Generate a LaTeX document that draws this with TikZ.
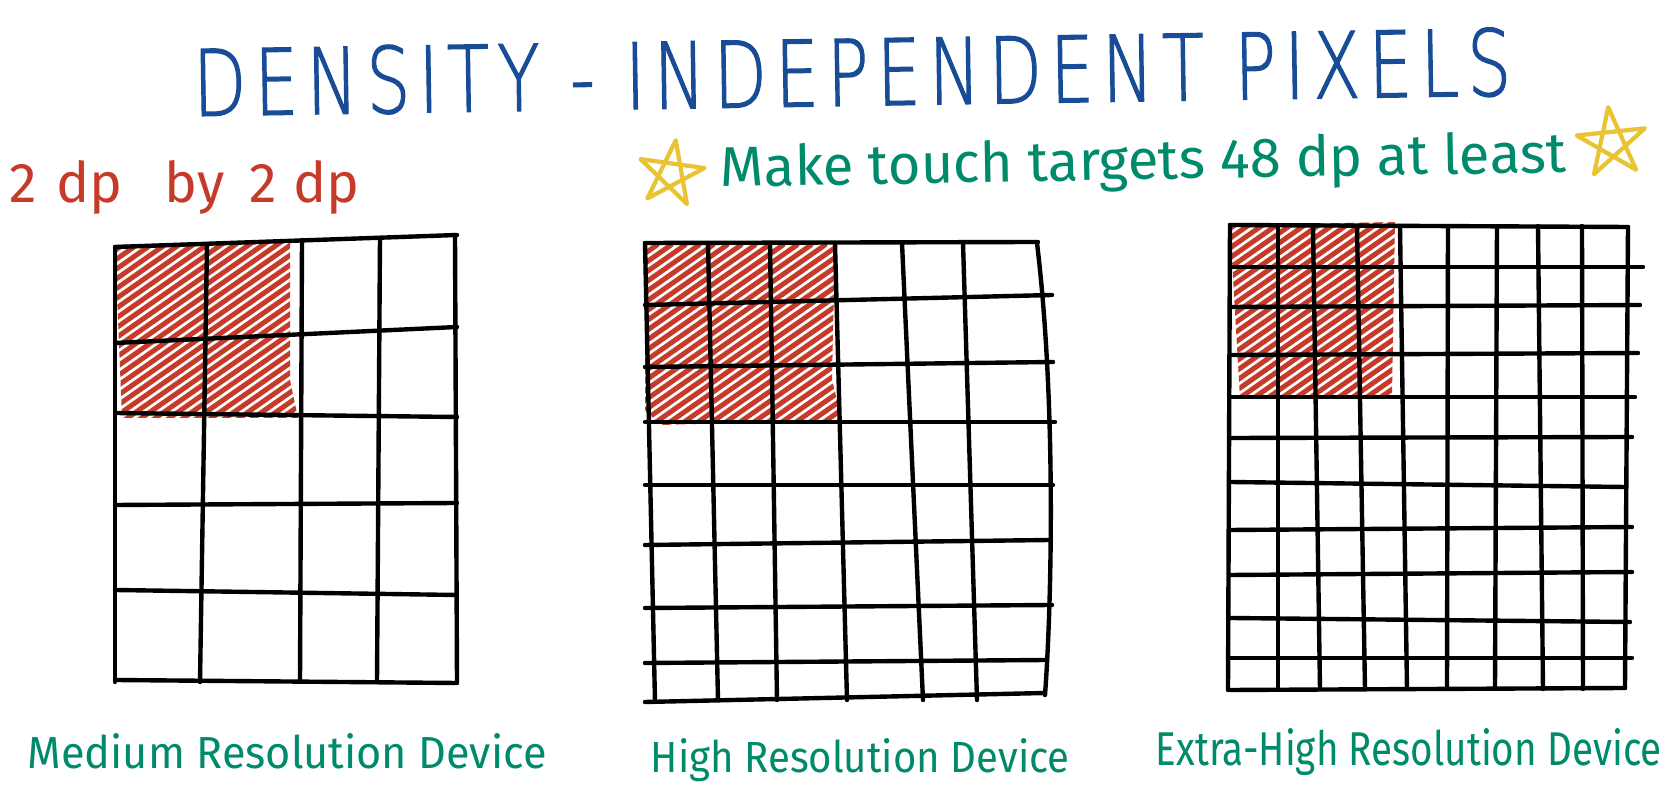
\documentclass[tikz,border=0pt]{standalone}
\usepackage{graphicx}
\usepackage{fontspec}
\setmainfont{Fira Sans}
\newfontfamily\titlefont[LetterSpace=12,FakeBold=1.5]{DejaVu Sans ExtraLight}
\definecolor{inkblue}{RGB}{25,76,150}
\definecolor{inkred}{RGB}{198,58,42}
\definecolor{inkgreen}{RGB}{0,138,108}
\definecolor{inkyellow}{RGB}{234,195,50}

\tikzset{
  gridline/.style={line width=1.25pt, line cap=round, line join=round},
  hatch/.style={inkred, line width=0.5mm, line cap=round},
  starline/.style={inkyellow, line width=1.2pt, line join=round, line cap=round},
  handtext/.style={inner sep=0pt, anchor=base west},
}

\begin{document}
\begin{tikzpicture}[x=0.1mm,y=-0.1mm]
  \fill[white] (0,0) rectangle (1680,788);
  \useasboundingbox (0,0) rectangle (1680,788);

  % headings
  \node[handtext, inkblue, rotate=0.9] (title) at (193,116)
    {\resizebox{131.8mm}{6.8mm}{\titlefont DENSITY - INDEPENDENT PIXELS}};
  \node[handtext, inkred] (sizenote) at (9,203)
    {\resizebox{35mm}{4.2mm}{2\hspace{0.35em}dp\hspace{0.75em}by\hspace{0.45em}2\hspace{0.3em}dp}};
  \node[handtext, inkgreen, rotate=1] (tip) at (720,187)
    {\resizebox{84.6mm}{4.2mm}{Make touch targets 48 dp at least}};

  % stars
  \draw[starline, shift={(671,174)}, rotate=-8]
    (-90:34) -- (54:34) -- (198:34) -- (342:34) -- (126:34) -- cycle;
  \draw[starline, shift={(1612,143)}, rotate=6]
    (-90:36) -- (54:36) -- (198:36) -- (342:36) -- (126:36) -- cycle;

  % medium: 2x2 px
  \begin{scope}
    \clip (115,245) -- (290,240) -- (290,380) -- (298,418) -- (122,418) -- cycle;
    \foreach \k in {-20,...,15}
      \draw[hatch] ({115+\k*14-250},592) -- ++(500,-350);
  \end{scope}
  \foreach \l/\r in {247/235, 343/327, 413/417, 505/503, 590/595, 680/683}
    \draw[gridline] (115,\l) -- (457,\r);
  \foreach \t/\b/\y in {115/115/247, 207/200/244, 302/300/240, 380/377/238, 455/457/235}
    \draw[gridline] (\t,\y) -- (\b,682);

  % high: 3x3 px
  \begin{scope}
    \clip (645,243) -- (835,240) -- (832,380) -- (842,420) -- (660,425) -- (645,410) -- cycle;
    \foreach \k in {-20,...,17}
      \draw[hatch] ({645+\k*14-250},595) -- ++(500,-350);
  \end{scope}
  \foreach \l/\r/\e in {243/242/1038, 305/295/1052, 367/362/1053, 422/422/1055, 485/485/1053,
                        545/540/1050, 608/605/1052, 663/660/1047, 702/693/1045}
    \draw[gridline] (645,\l) -- (\e,\r);
  \foreach \t/\b in {708/718, 770/777, 835/847, 902/923, 963/977}
    \draw[gridline] (\t,243) -- (\b,700);
  \draw[gridline] (645,243) -- (655,702);
  \draw[gridline] (1037,243) .. controls (1056,400) and (1052,600) .. (1045,695);

  % extra-high: 4x4 px
  \begin{scope}
    \clip (1230,225) -- (1395,222) -- (1392,395) -- (1240,398) -- cycle;
    \foreach \k in {-20,...,15}
      \draw[hatch] ({1230+\k*14-250},570) -- ++(500,-350);
  \end{scope}
  \foreach \l/\r/\e in {225/227/1628, 267/267/1643, 307/305/1640, 355/353/1638, 397/397/1635,
                        438/437/1632, 482/487/1625, 530/527/1632, 575/572/1632, 618/622/1630,
                        658/658/1632, 690/688/1625}
    \draw[gridline] (1230,\l) -- (\e,\r);
  \foreach \t/\b in {1278/1278, 1313/1320, 1357/1365, 1400/1407, 1448/1447, 1497/1495,
                     1538/1543, 1582/1583}
    \draw[gridline] (\t,226) -- (\b,689);
  \draw[gridline] (1230,225) -- (1228,690);
  \draw[gridline] (1628,227) -- (1625,688);

  % device names
  \node[handtext, inkgreen] (mdpilabel) at (27,769)
    {\resizebox{51.9mm}{3.5mm}{Medium Resolution Device}};
  \node[handtext, inkgreen] (hdpilabel) at (650,773)
    {\resizebox{41.9mm}{3.4mm}{High Resolution Device}};
  \node[handtext, inkgreen] (xhdpilabel) at (1155,766)
    {\resizebox{50.6mm}{3.7mm}{Extra-High Resolution Device}};
\end{tikzpicture}
\end{document}
